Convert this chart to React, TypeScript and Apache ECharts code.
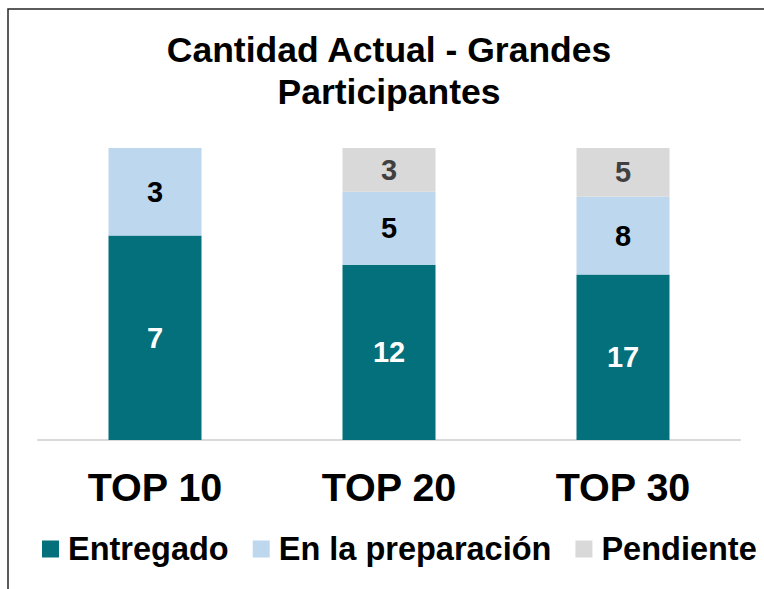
import React, { useEffect, useRef } from "react";
import * as echarts from "echarts";

const categories = ["TOP 10", "TOP 20", "TOP 30"];
const entregado = [7, 12, 17];
const enPreparacion = [3, 5, 8];
const pendiente = [0, 3, 5];
const seriesNames = ["Entregado", "En la preparación", "Pendiente"];

const FONT = "'Liberation Sans', Arial, sans-serif";

export default function App() {
  const ref = useRef<HTMLDivElement>(null);
  useEffect(() => {
    if (!ref.current) return;
    const chart = echarts.init(ref.current, null, { renderer: "svg" });
    const totals = categories.map((_, i) => entregado[i] + enPreparacion[i] + pendiente[i]);
    const pct = (arr: number[]) => arr.map((v, i) => ({ value: (v / totals[i]) * 100, raw: v }));
    const mk = (name: string, arr: number[], color: string, labelColor: string) => ({
      name,
      type: "bar",
      stack: "total",
      barWidth: 93,
      data: pct(arr),
      itemStyle: { color },
      label: {
        show: true,
        position: "inside",
        fontFamily: FONT,
        fontWeight: "bold",
        fontSize: 29,
        color: labelColor,
        formatter: (p: any) => (p.data.raw ? String(p.data.raw) : ""),
      },
    });
    chart.setOption({
      animation: false,
      backgroundColor: "#ffffff",
      title: {
        text: "Cantidad Actual - Grandes\nParticipantes",
        left: 389,
        top: 29,
        padding: 0,
        textAlign: "center",
        textStyle: {
          fontFamily: FONT,
          fontWeight: "bold",
          fontSize: 35.5,
          lineHeight: 42,
          color: "#000000",
        },
      },
      graphic: [
        {
          type: "rect",
          shape: { x: 8, y: 9, width: 800, height: 650 },
          style: { fill: "none", stroke: "#262626", lineWidth: 1.5 },
          silent: true,
        },
      ],
      legend: {
        left: 42,
        top: 532,
        padding: 0,
        itemWidth: 17,
        itemHeight: 17,
        itemGap: 24,
        icon: "rect",
        data: seriesNames,
        textStyle: {
          fontFamily: FONT,
          fontWeight: "bold",
          fontSize: 32.5,
          lineHeight: 34,
          color: "#000000",
          padding: [0, 0, 0, 4],
        },
      },
      grid: { left: 38, right: 24, top: 148, bottom: 149, containLabel: false },
      xAxis: {
        type: "category",
        data: categories,
        axisLine: { lineStyle: { color: "#d9d9d9", width: 2 } },
        axisTick: { show: false },
        axisLabel: {
          margin: 27,
          fontFamily: FONT,
          fontWeight: "bold",
          fontSize: 39.5,
          color: "#000000",
        },
      },
      yAxis: { type: "value", min: 0, max: 100, show: false, splitLine: { show: false } },
      series: [
        mk(seriesNames[0], entregado, "#03707b", "#ffffff"),
        mk(seriesNames[1], enPreparacion, "#bdd7ee", "#000000"),
        mk(seriesNames[2], pendiente, "#d9d9d9", "#404040"),
      ],
    });
    return () => chart.dispose();
  }, []);
  return (
    <div
      ref={ref}
      style={{ position: "absolute", left: 0, top: 0, width: 764, height: 589 }}
    />
  );
}
